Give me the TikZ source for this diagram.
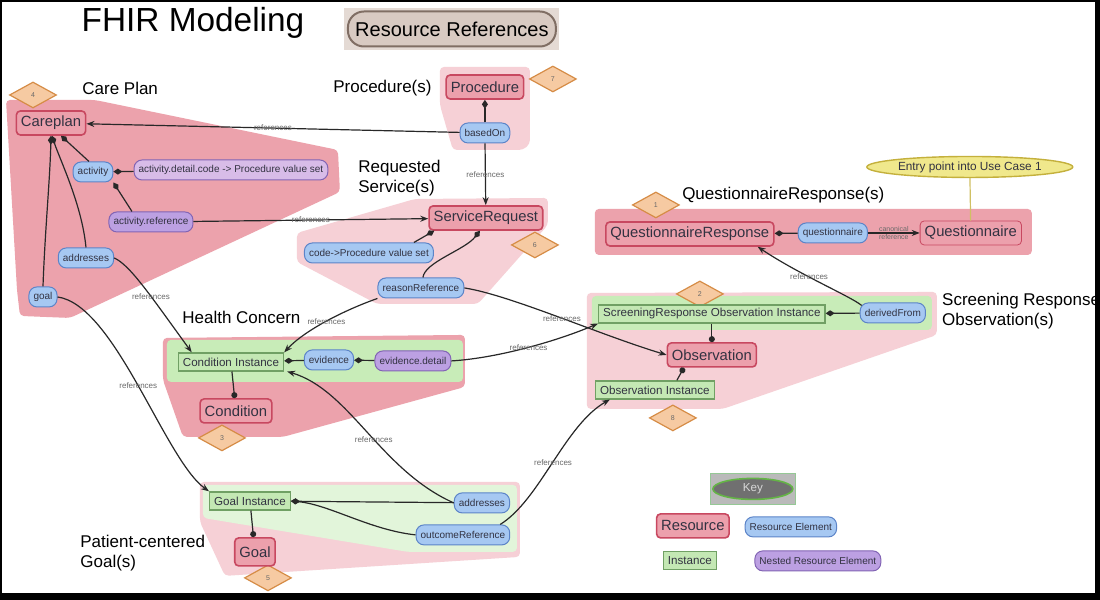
\documentclass[tikz,border=0pt]{standalone}
\usepackage{fontspec}
\setmainfont{Liberation Sans}
\usetikzlibrary{arrows.meta,shapes.geometric}
\definecolor{regdark}{RGB}{236,162,172}
\definecolor{reglight}{RGB}{246,208,214}
\definecolor{bandgreen}{RGB}{200,236,184}
\definecolor{bandpale}{RGB}{226,245,218}
\definecolor{resfill}{RGB}{236,160,172}
\definecolor{resborder}{RGB}{200,72,96}
\definecolor{elfill}{RGB}{166,200,242}
\definecolor{elborder}{RGB}{92,132,200}
\definecolor{nestfill}{RGB}{188,160,226}
\definecolor{nestpale}{RGB}{216,188,232}
\definecolor{nestborder}{RGB}{130,100,180}
\definecolor{instfill}{RGB}{196,232,180}
\definecolor{instborder}{RGB}{112,160,100}
\definecolor{badgefill}{RGB}{246,202,162}
\definecolor{badgeborder}{RGB}{214,140,70}
\definecolor{wire}{RGB}{40,40,40}
\definecolor{reftext}{RGB}{105,105,105}
\definecolor{darktext}{RGB}{50,50,65}
\definecolor{rrouter}{RGB}{228,218,212}
\definecolor{rrfill}{RGB}{216,202,194}
\definecolor{rrborder}{RGB}{128,110,100}
\definecolor{keygrey}{RGB}{186,186,186}
\definecolor{keydark}{RGB}{112,112,112}
\definecolor{keygreen}{RGB}{100,180,70}
\definecolor{keytext}{RGB}{215,215,215}
\definecolor{entryfill}{RGB}{240,232,140}
\definecolor{entryedge}{RGB}{196,176,60}
\begin{document}
\begin{tikzpicture}[x=0.5pt,y=-0.5pt,
	refline/.style={draw=wire,line width=0.6pt,-{Stealth[length=4pt,width=3pt]}},
	compline/.style={draw=wire,line width=0.6pt,-{Diamond[length=4.5pt,width=3pt]}},
	instline/.style={draw=wire,line width=0.6pt,-{Circle[length=3pt]}},
	reflabel/.style={font=\fontsize{4}{4}\selectfont,text=reftext,inner sep=0pt},
	resource/.style={draw=resborder,fill=resfill,line width=0.8pt,rounded corners=2pt,minimum height=12pt,inner xsep=2.3pt,inner ysep=0pt,font=\fontsize{7.4}{8}\selectfont,text=darktext},
	element/.style={draw=elborder,fill=elfill,line width=0.5pt,rounded corners=4pt,minimum height=10pt,inner xsep=2.3pt,inner ysep=0pt,font=\fontsize{5}{6}\selectfont,text=darktext},
	nested/.style={element,draw=nestborder,fill=nestfill},
	instance/.style={draw=instborder,fill=instfill,line width=0.6pt,minimum height=9pt,inner xsep=2.3pt,inner ysep=0pt,font=\fontsize{5.8}{6}\selectfont,text=darktext},
	badge/.style={diamond,draw=badgeborder,fill=badgefill,line width=0.6pt,minimum width=23.5pt,minimum height=13pt,inner sep=0pt,font=\fontsize{3.5}{4}\selectfont,text=reftext},
	section/.style={anchor=west,align=left,inner sep=0pt,font=\fontsize{8.5}{10}\selectfont}]
	\fill[black] (0,0) rectangle (1100,600);
	\fill[white] (2.5,1.5) rectangle (1095,593);
	\fill[regdark,rounded corners=2pt] (6,100)--(95,100)--(338,150)--(340,192)--(70,318)--(20,316)--(17,290)--cycle;
	\fill[reglight,rounded corners=2pt] (440,67)--(530,67)--(530,144)--(523,150)--(453,150)--(440,105)--cycle;
	\fill[reglight,rounded corners=2pt] (297,233)--(415,199)--(548,198)--(548,225)--(478,304)--(377,304)--(297,262)--cycle;
	\fill[regdark,rounded corners=2pt] (595,209) rectangle (1032,255);
	\fill[reglight,rounded corners=2pt] (587,293)--(937,292)--(937,335)--(723,409)--(587,409)--cycle;
	\fill[bandgreen,rounded corners=2pt] (592,296) rectangle (932,330);
	\fill[regdark,rounded corners=2pt] (163,338)--(465,335)--(465,387)--(283,437)--(183,437)--(163,380)--cycle;
	\fill[bandgreen,rounded corners=2pt] (167,340) rectangle (463,382);
	\fill[reglight,rounded corners=2pt] (200,482)--(520,482)--(520,557)--(225,576)--(200,522)--cycle;
	\fill[bandpale,rounded corners=2pt] (203,485)--(517,485)--(517,552)--(408,552)--(203,518)--cycle;

	\node[font=\fontsize{16.7}{20}\selectfont] (title) at (193,23) {FHIR Modeling};
	\node[fill=rrouter,minimum width=107.5pt,minimum height=21pt] (rrbox) at (452,29) {};
	\node[draw=rrborder,fill=rrfill,line width=1pt,rounded corners=8pt,minimum width=104pt,minimum height=17.5pt,font=\fontsize{10}{12}\selectfont] (rr) at (452,29) {Resource References};

	\node[section] (lcare) at (82,88) {Care Plan};
	\node[section] (lproc) at (333,88) {Procedure(s)};
	\node[section] (lserv) at (358,178) {Requested\\Service(s)};
	\node[section] (lqr) at (682,195) {QuestionnaireResponse(s)};
	\node[section] (lhealth) at (182,317) {Health Concern};
	\node[section] (lscreen) at (942,311) {Screening Response\\Observation(s)};
	\node[section] (lgoal) at (80,553) {Patient-centered\\Goal(s)};

	\node[badge] (b1) at (656,205) {1};
	\node[badge] (b2) at (700,294) {2};
	\node[badge] (b3) at (222,438) {3};
	\node[badge] (b4) at (33,95) {4};
	\node[badge] (b5) at (268,578) {5};
	\node[badge] (b6) at (535,245) {6};
	\node[badge] (b7) at (553,79) {7};
	\node[badge] (b8) at (673,418) {8};

	\node[resource] (careplan) at (51,123) {Careplan};
	\node[resource] (procedure) at (485,87) {Procedure};
	\node[resource] (servicereq) at (486,218) {ServiceRequest};
	\node[resource] (qresponse) at (690,234) {QuestionnaireResponse};
	\node[resource,line width=0.4pt] (questionnaire) at (971,233) {Questionnaire};
	\node[resource] (observation) at (712,355) {Observation};
	\node[resource] (condition) at (236,411) {Condition};
	\node[resource,minimum height=14pt] (goalres) at (255,552) {Goal};

	\node[element] (activity) at (93,172) {activity};
	\node[nested,fill=nestpale] (detailcode) at (231,170) {activity.detail.code -> Procedure value set};
	\node[nested] (actref) at (151,222) {activity.reference};
	\node[element] (cpaddr) at (86,258) {addresses};
	\node[element] (cpgoal) at (43,297) {goal};
	\node[element] (basedon) at (485,133) {basedOn};
	\node[element] (codeproc) at (369,253) {code->Procedure value set};
	\node[element] (reasonref) at (421,288) {reasonReference};
	\node[element] (qitem) at (833,233) {questionnaire};
	\node[element] (derived) at (893,313) {derivedFrom};
	\node[element] (evidence) at (329,360) {evidence};
	\node[nested] (evdetail) at (413,361) {evidence.detail};
	\node[element] (gaddr) at (482,503) {addresses};
	\node[element] (outcome) at (463,535) {outcomeReference};

	\node[instance] (condinst) at (231,362) {Condition Instance};
	\node[instance] (srinst) at (712,314) {ScreeningResponse Observation Instance};
	\node[instance] (obsinst) at (655,390) {Observation Instance};
	\node[instance] (goalinst) at (250,501) {Goal Instance};

	\node[ellipse,fill=entryfill,draw=entryedge,line width=0.7pt,minimum width=103pt,minimum height=10.5pt,inner sep=0pt,font=\fontsize{5.9}{6}\selectfont,text=darktext] (entry) at (970,167) {Entry point into Use Case 1};
	\draw[entryedge!80,line width=0.6pt] (entry) -- (questionnaire);

	\node[fill=keygrey,draw=keygrey!80!green,minimum width=42.5pt,minimum height=15.5pt] (keybox) at (753,489) {};
	\node[ellipse,fill=keydark,draw=keygreen,line width=0.8pt,minimum width=40pt,minimum height=10.5pt,inner sep=0pt,text=keytext,font=\fontsize{5.8}{6}\selectfont] (key) at (753,489) {Key};
	\node[resource] (keyres) at (693,526) {Resource};
	\node[element] (keyel) at (791,527) {Resource Element};
	\node[instance] (keyinst) at (690,561) {Instance};
	\node[nested] (keynest) at (818,561) {Nested Resource Element};

	\draw[refline] (basedon) -- (careplan) node[reflabel,midway]{references};
	\draw[compline] (basedon) -- (procedure);
	\draw[refline] (basedon) -- (servicereq) node[reflabel,midway]{references};
	\draw[compline] ([xshift=-2pt]activity.north) -- ([xshift=5pt]careplan.south);
	\draw[compline] (detailcode) -- (activity);
	\draw[compline] ([xshift=-9.5pt]actref.north) -- (activity.south east);
	\draw[refline] (actref) -- (servicereq) node[reflabel,midway]{references};
	\draw[compline] (cpaddr.north) .. controls (82,205) and (60,160) .. ([xshift=0.5pt]careplan.south);
	\draw[compline] (cpgoal.north) .. controls (45,230) and (50,180) .. (careplan.south);
	\draw[refline] (cpaddr.east) .. controls (130,265) and (150,295) .. ([xshift=7pt]condinst.north west) node[reflabel,pos=0.6]{references};
	\draw[refline] (cpgoal.east) .. controls (115,305) and (165,460) .. (goalinst.north west) node[reflabel,pos=0.5]{references};
	\draw[compline] ([xshift=-10pt]codeproc.north east) -- ([xshift=3pt]servicereq.south west);
	\draw[compline] ([xshift=1pt]reasonref.north) .. controls (425,262) and (465,250) .. ([xshift=-3pt]servicereq.south);
	\draw[refline] (reasonref.south west) .. controls (345,310) and (305,330) .. (condinst.north east) node[reflabel,pos=0.5]{references};
	\draw[refline] (reasonref.east) .. controls (510,295) and (600,335) .. (observation.west) node[reflabel,pos=0.52]{references};
	\draw[compline] (evidence) -- (condinst);
	\draw[compline] (evdetail) -- (evidence);
	\draw[refline] (evdetail.east) .. controls (500,358) and (560,340) .. (srinst.south west) node[reflabel,pos=0.5]{references};
	\draw[compline] (qitem) -- (qresponse);
	\draw[refline] (qitem) -- (questionnaire) node[reflabel,midway,above=0.6pt,font=\fontsize{3.5}{4}\selectfont]{canonical} node[reflabel,midway,below=0.6pt,font=\fontsize{3.5}{4}\selectfont]{reference};
	\draw[compline] (derived) -- (srinst);
	\draw[refline] ([xshift=1pt,yshift=-1.5pt]derived.north west) .. controls (850,296) and (800,275) .. ([xshift=-8.5pt]qresponse.south east) node[reflabel,pos=0.6]{references};
	\draw[instline] (srinst) -- (observation);
	\draw[instline] ([xshift=11pt]obsinst.north) -- ([xshift=-14pt]observation.south);
	\draw[instline] (condinst) -- (condition);
	\draw[compline] (gaddr) -- (goalinst);
	\draw[compline] (outcome.west) .. controls (370,530) and (330,505) .. (goalinst.east);
	\draw[refline] (gaddr.west) .. controls (380,470) and (350,390) .. ([xshift=1.5pt]condinst.south east) node[reflabel,pos=0.45]{references};
	\draw[refline] ([xshift=-5pt]outcome.north east) .. controls (540,500) and (565,425) .. ([xshift=7.5pt]obsinst.south west) node[reflabel,pos=0.5]{references};
	\draw[instline] (goalinst) -- (goalres);
\end{tikzpicture}
\end{document}
